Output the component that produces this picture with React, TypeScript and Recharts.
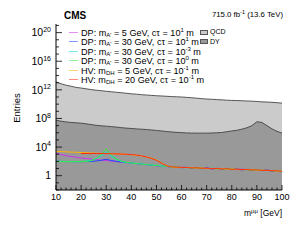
import React from "react";
import { ComposedChart, Area, Line, XAxis, YAxis, Legend } from "recharts";

const masses = [10,12,14,16,18,20,22,24,26,28,30,32,34,36,38,40,42,44,46,48,50,52,54,56,58,60,62,64,66,68,70,72,74,76,78,80,82,84,86,88,90,92,94,96,98,100];

const qcd = [1.26e13,7.1e12,4.5e12,3.2e12,2.2e12,1.8e12,1.4e12,1.1e12,8.9e11,7.6e11,6.3e11,5.4e11,4.6e11,4.0e11,3.3e11,2.8e11,2.5e11,2.1e11,1.9e11,1.7e11,1.5e11,1.4e11,1.26e11,1.15e11,1.07e11,1.0e11,8.9e10,7.9e10,6.8e10,5.9e10,5.2e10,4.8e10,4.3e10,4.0e10,3.6e10,3.3e10,3.2e10,3.0e10,2.8e10,2.6e10,2.4e10,2.1e10,2.0e10,1.8e10,1.6e10,1.4e10];
const dy = [5.6e7,4.2e7,3.3e7,2.8e7,2.5e7,2.2e7,1.8e7,1.4e7,1.1e7,9.5e6,8.3e6,7.2e6,6.3e6,5.2e6,4.5e6,4.0e6,3.5e6,3.2e6,2.8e6,2.5e6,2.1e6,1.8e6,1.5e6,1.3e6,1.15e6,1.05e6,9.5e5,9.1e5,8.9e5,8.9e5,8.9e5,9.3e5,1.0e6,1.1e6,1.4e6,1.8e6,2.2e6,3.2e6,5.0e6,1.0e7,3.5e7,2.8e7,1.0e7,3.5e6,1.6e6,8.9e5];

const dp5 = [1410,890,630,480,380,300,251,209,178,151,132,112,95,79,66,56,48,40,33,28,24,20,17.8,18,13.8,17.5,12.9,14.1,9.6,12.3,12.9,8.9,10.2,7.4,10.2,8.3,6.8,9.1,6.4,7.4,5.2,6.2,6.5,4.3,5.0,4.0];
const dp30a = [100,98,95,93,91,91,93,100,112,141,200,132,100,83,71,60,50,42,35,30,26,23,20,15.2,16.8,13.1,14.8,11.0,13.2,10.3,11.9,9.2,10.6,8.1,9.5,7.4,8.6,6.5,7.6,5.8,6.9,5.1,6.0,4.6,5.1,3.8];
const dp30b = [105,100,98,95,93,95,105,141,251,562,1995,501,200,100,72,60,50,43,36,31,27,23,20,17.2,14.4,15.8,12.1,13.9,11.0,12.6,9.8,11.2,8.6,9.9,7.9,9.2,7.0,7.9,6.1,7.3,5.5,6.4,4.8,5.6,4.1,4.5];
const dp30c = [95,93,91,89,89,91,100,126,251,794,5620,794,224,105,74,60,50,42,35,30,26,23,20,16.0,16.2,13.6,14.3,12.0,12.8,11.1,10.2,10.8,9.0,9.6,8.0,8.9,7.2,7.6,7.3,6.0,6.6,5.5,5.8,4.7,4.9,4.3];
const hv5 = [2500,2340,2140,2000,1860,1740,1620,1510,1410,1320,1260,1200,1120,1050,955,850,720,575,417,282,158,63,25,16.4,15.0,15.1,13.0,13.4,11.3,12.2,10.0,10.6,9.1,9.7,8.2,8.8,7.5,7.5,6.6,7.0,5.9,6.1,5.1,5.3,4.4,4.3];
const hv20 = [null,null,null,null,null,1260,1260,1260,1260,1260,1200,1170,1120,1050,1000,890,760,600,417,263,141,56,25,17.0,15.8,14.2,14.0,12.2,12.7,11.0,11.3,9.7,10.0,8.8,9.2,8.0,8.1,7.0,7.2,6.3,6.5,5.6,5.7,4.9,4.8,4.0];

const signalKeys = ["dp5", "dp30a", "dp30b", "dp30c", "hv5", "hv20"];
const signalColors = ["#cc33ee", "#2244ff", "#11dddd", "#33ee44", "#ffb000", "#ff2a10"];
const signalModels = ["DP", "DP", "DP", "DP", "HV", "HV"];
const signalMassSubs = ["A'", "A'", "A'", "A'", "DH", "DH"];
const signalMasses = ["5", "30", "30", "30", "5", "20"];
const signalCtExps = ["1", "1", "-3", "0", "-1", "-1"];

const bkgNames = ["QCD", "DY"];
const bkgColors = ["#cbcbcb", "#999999"];

const yTicks = [-2,-1,0,1,2,3,4,5,6,7,8,9,10,11,12,13,14,15,16,17,18,19,20,21].map((e) => Math.pow(10, e));
const xTicks = masses;

const data = masses.map((m, i) => ({
  m,
  total: qcd[i] + dy[i],
  dy: dy[i],
  dp5: dp5[i],
  dp30a: dp30a[i],
  dp30b: dp30b[i],
  dp30c: dp30c[i],
  hv5: hv5[i],
  hv20: hv20[i],
}));

const FONT = "'Liberation Sans', Arial, Helvetica, sans-serif";

const YTick = (props: any) => {
  const { x, y, payload } = props;
  const e = Math.round(Math.log10(payload.value));
  const major = e >= 0 && e % 4 === 0;
  return (
    <g>
      <line x1={x} x2={x + (major ? 6 : 3)} y1={y} y2={y} stroke="#000" strokeWidth={0.8} />
      {major &&
        (e === 0 ? (
          <text x={x - 5} y={y} dy={3.8} textAnchor="end" fontSize={10.5} fontFamily={FONT} fill="#000">1</text>
        ) : (
          <text x={x - 5} y={y} dy={3.8} textAnchor="end" fontSize={10.5} fontFamily={FONT} fill="#000">
            10<tspan dy={-4.5} fontSize={7}>{e}</tspan>
          </text>
        ))}
    </g>
  );
};

const XTick = (props: any) => {
  const { x, y, payload } = props;
  const v = payload.value;
  const major = v % 10 === 0;
  return (
    <g>
      <line x1={x} x2={x} y1={y} y2={y - (major ? 5 : 2.5)} stroke="#000" strokeWidth={0.8} />
      {major && (
        <text x={x} y={y} dy={10} textAnchor="middle" fontSize={9} fontFamily={FONT} fill="#000">{v}</text>
      )}
    </g>
  );
};

const LegendContent = () => {
  const rowTop = 32;
  const rowStep = 9.5;
  return (
    <div style={{ position: "relative", width: 293, height: 240, fontFamily: FONT, color: "#000" }}>
      {signalKeys.map((k, i) => (
        <div key={k} style={{ position: "absolute", left: 69, top: rowTop + rowStep * i - 5, height: 10, display: "flex", alignItems: "center", whiteSpace: "nowrap" }}>
          <div style={{ width: 9, height: 1, background: signalColors[i], opacity: 0.55, marginRight: 3 }} />
          <span style={{ fontSize: 9.1, lineHeight: "10px" }}>
            {signalModels[i]}: m<sub style={{ fontSize: 6, verticalAlign: "-1.5px" }}>{signalMassSubs[i]}</sub> = {signalMasses[i]} GeV, cτ = 10
            <sup style={{ fontSize: 6, verticalAlign: "3.5px" }}>{signalCtExps[i]}</sup> m
          </span>
        </div>
      ))}
      {bkgNames.map((n, i) => (
        <div key={n} style={{ position: "absolute", left: 200, top: rowTop + rowStep * i - 5, height: 10, display: "flex", alignItems: "center", whiteSpace: "nowrap" }}>
          <div style={{ width: 6, height: 3, background: bkgColors[i], border: "0.5px solid #555", marginRight: 2 }} />
          <span style={{ fontSize: 7, lineHeight: "10px" }}>{n}</span>
        </div>
      ))}
    </div>
  );
};

export default function App() {
  return (
    <div style={{ position: "absolute", left: 0, top: 0, width: 293, height: 240, background: "#fff" }}>
      <ComposedChart width={293} height={240} data={data} margin={{ top: 24, right: 11, left: 0, bottom: 0 }}>
        <XAxis
          dataKey="m"
          type="number"
          domain={[10, 100]}
          ticks={xTicks}
          interval={0}
          height={50}
          tickSize={0}
          tickMargin={0}
          tickLine={false}
          axisLine={{ stroke: "#000", strokeWidth: 1 }}
          tick={<XTick />}
          allowDataOverflow
        />
        <XAxis xAxisId="top" orientation="top" dataKey="m" type="number" domain={[10, 100]} height={0} tick={false} tickLine={false} axisLine={{ stroke: "#000", strokeWidth: 1 }} />
        <YAxis
          type="number"
          scale="log"
          domain={[0.01, 1.6e21]}
          allowDataOverflow
          ticks={yTicks}
          interval={0}
          width={56}
          tickSize={0}
          tickMargin={0}
          tickLine={false}
          axisLine={{ stroke: "#000", strokeWidth: 1 }}
          tick={<YTick />}
        />
        <YAxis yAxisId="right" orientation="right" type="number" scale="log" domain={[0.01, 1.6e21]} allowDataOverflow width={0} tick={false} tickLine={false} axisLine={{ stroke: "#000", strokeWidth: 1 }} />
        <Area dataKey="total" type="linear" baseValue="dataMin" fill={bkgColors[0]} fillOpacity={1} stroke="#333" strokeWidth={0.8} isAnimationActive={false} dot={false} activeDot={false} />
        <Area dataKey="dy" type="linear" baseValue="dataMin" fill={bkgColors[1]} fillOpacity={1} stroke="#333" strokeWidth={0.8} isAnimationActive={false} dot={false} activeDot={false} />
        {signalKeys.map((k, i) => (
          <Line key={k} dataKey={k} type="linear" stroke={signalColors[i]} strokeWidth={1} dot={false} activeDot={false} isAnimationActive={false} connectNulls={false} />
        ))}
        <Legend content={<LegendContent />} layout="vertical" align="center" verticalAlign="middle" wrapperStyle={{ position: "absolute", left: 0, top: 0, width: 293, height: 240, pointerEvents: "none" }} />
      </ComposedChart>
      <svg width={293} height={240} style={{ position: "absolute", left: 0, top: 0, pointerEvents: "none" }}>
        <text x={64} y={18.5} fontSize={10} fontWeight="bold" fontFamily={FONT} fill="#000">CMS</text>
        <text x={283} y={17} fontSize={7.8} textAnchor="end" fontFamily={FONT} fill="#000">
          715.0 fb<tspan dy={-3} fontSize={5.5}>-1</tspan><tspan dy={3}> (13.6 TeV)</tspan>
        </text>
        <text x={0} y={0} fontSize={9.5} textAnchor="middle" fontFamily={FONT} fill="#000" transform="translate(19.5,108) rotate(-90)">Entries</text>
        <text x={282} y={216} fontSize={8.5} textAnchor="end" fontFamily={FONT} fill="#000">
          m<tspan dy={-3.5} fontSize={6}>μμ</tspan><tspan dy={3.5}> [GeV]</tspan>
        </text>
      </svg>
    </div>
  );
}
